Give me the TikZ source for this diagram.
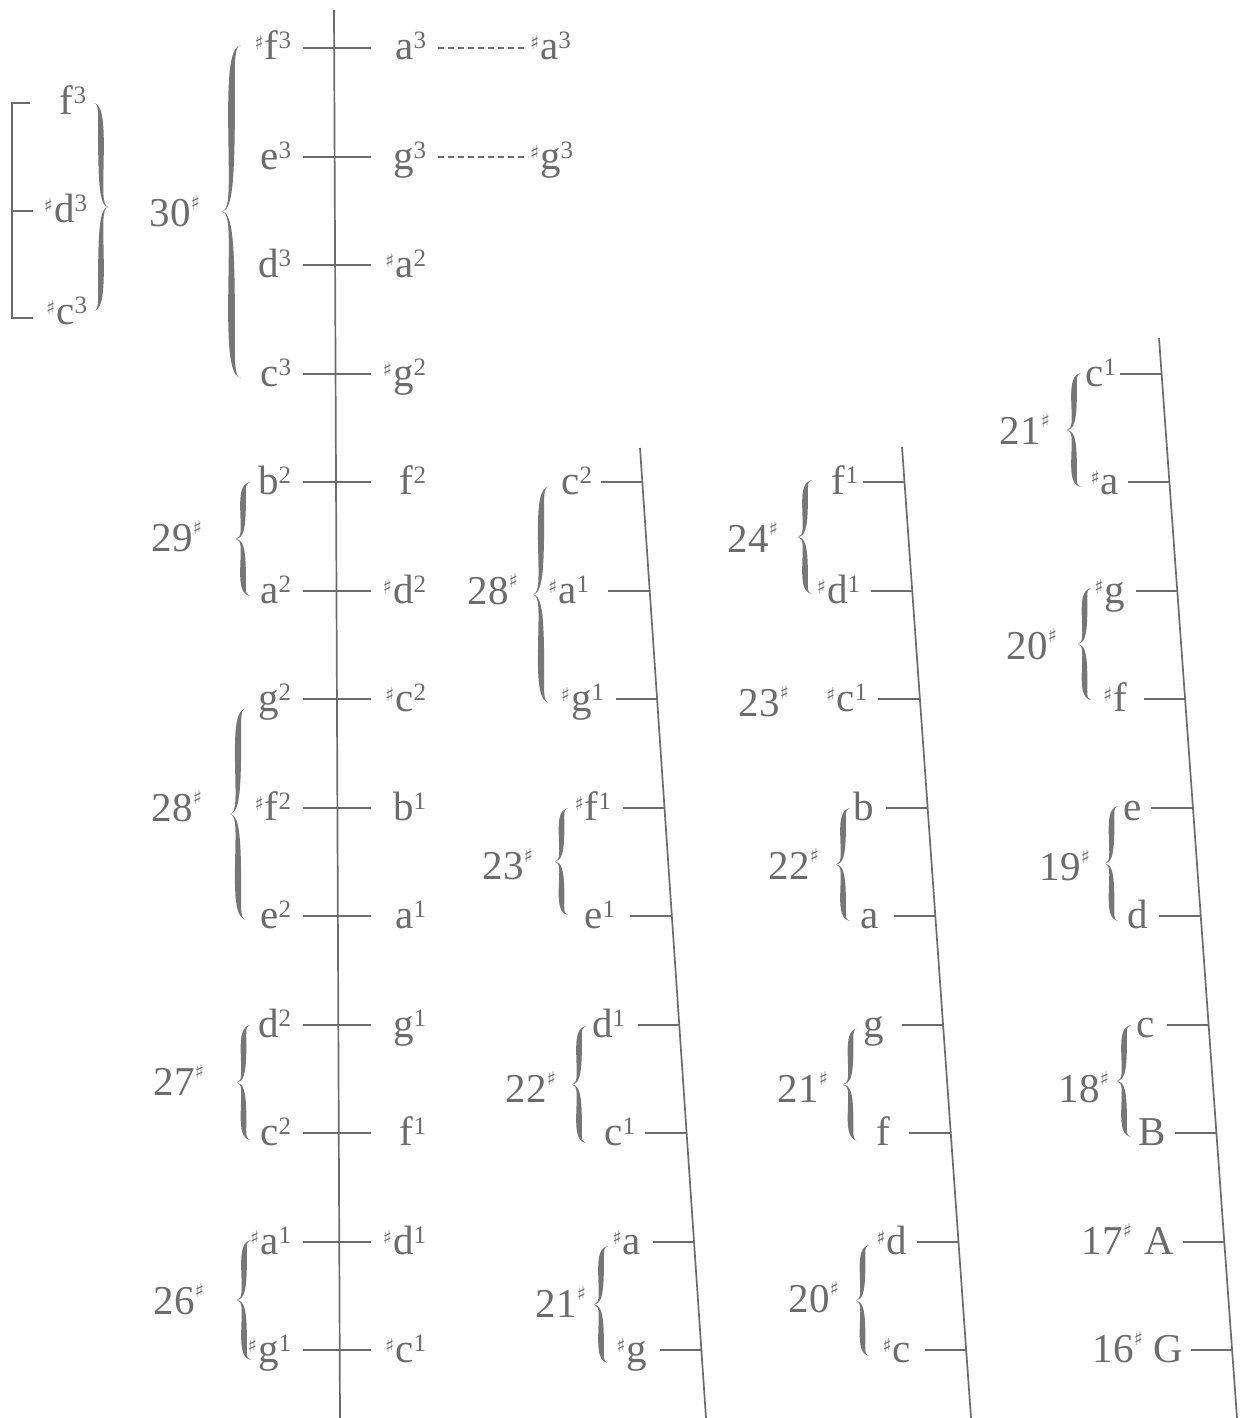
\documentclass[tikz,border=0pt]{standalone}
\usepackage{fontspec}
\setmainfont{Liberation Serif}
\newfontfamily\symf{DejaVu Sans}
\definecolor{ink}{RGB}{108,108,108}
\definecolor{brcol}{RGB}{118,118,118}
\newcommand\shp{\raisebox{10pt}{\fontsize{19}{19}\symf ♯}\hspace{1pt}}
\newcommand\ssh{\raisebox{17pt}{\fontsize{19}{19}\symf ♯}}
\newcommand\su[1]{\raisebox{11pt}{\fontsize{25}{25}\selectfont #1}}
\tikzset{
  lbl/.style={inner sep=0pt,outer sep=0pt,text=ink,font=\fontsize{41}{44}\selectfont},
  tk/.style={draw=ink,line width=1.9pt},
  vline/.style={draw=ink,line width=1.7pt},
  dsh/.style={draw=ink,line width=1.2pt,dash pattern=on 6pt off 4pt},
  brc/.style={fill=brcol}
}
% brace: #1 hook x, #2 tip x, #3 top y, #4 bottom y, #5 thickness
\newcommand\brc[5]{%
  \pgfmathsetmacro\bd{sign(#1-#2)}%
  \pgfmathsetmacro\bm{(#3+#4)/2}%
  \pgfmathsetmacro\bh{(#4-#3)/2}%
  \pgfmathsetmacro\bxc{(#1+#2)/2}%
  \foreach \s/\ye in {1/#3,-1/#4}{%
    \fill[brc] (#1,\ye)
      .. controls ({\bxc-(\bd)*1},{\ye+(\s)*2}) and ({\bxc-(\bd)*0.6*#5},{\ye+(\s)*0.15*\bh}) .. ({\bxc-(\bd)*0.5*#5},{\ye+(\s)*0.5*\bh})
      .. controls ({\bxc-(\bd)*0.4*#5},{\ye+(\s)*0.85*\bh}) and ({\bxc-(\bd)*1},{\ye+(\s)*(\bh-2)}) .. (#2,\bm)
      .. controls ({\bxc},{\ye+(\s)*(\bh-1)}) and ({\bxc+(\bd)*0.4*#5},{\ye+(\s)*0.85*\bh}) .. ({\bxc+(\bd)*0.5*#5},{\ye+(\s)*0.5*\bh})
      .. controls ({\bxc+(\bd)*0.6*#5},{\ye+(\s)*0.15*\bh}) and ({\bxc+(\bd)*1},{\ye+(\s)*1}) .. (#1,\ye) -- cycle;
  }%
}
% slanted-column row: #1 name, #2 line top x, #3 line top y, #4 slope, #5 row y, #6 label right x, #7 text
\newcommand\slrow[7]{%
  \pgfmathsetmacro\slx{#2+(#5-#3)*#4}%
  \coordinate (#1e) at (\slx,#5);
  \coordinate (#1s) at ({\slx-41.5},#5);
  \node[lbl,anchor=base east] (#1) at (#6,{#5+12}) {#7};
  \draw[tk] (#1s) -- (#1e);
}
\newcommand\numlab[4]{% #1 name, #2 right x, #3 centre y, #4 text
  \node[lbl,anchor=base east] (#1) at (#2,{#3+14}) {#4};
}
\begin{document}
\begin{tikzpicture}[x=1pt,y=-1pt]
\useasboundingbox (0,0) rectangle (1240,1418);

% vertical lines
\coordinate (L1t) at (334,10);   \coordinate (L1b) at (340,1418);
\coordinate (L2t) at (640,448);  \coordinate (L2b) at (706,1418);
\coordinate (L3t) at (902,447);  \coordinate (L3b) at (971,1418);
\coordinate (L4t) at (1159,338); \coordinate (L4b) at (1237,1418);
\draw[vline] (L1t) -- (L1b);
\draw[vline] (L2t) -- (L2b);
\draw[vline] (L3t) -- (L3b);
\draw[vline] (L4t) -- (L4b);

% main column
\foreach \k/\ry/\lt/\rt in {
  0/48/{\shp f\su{3}}/{a\su{3}},
  1/157/{e\su{3}}/{g\su{3}},
  2/265/{d\su{3}}/{\shp a\su{2}},
  3/374/{c\su{3}}/{\shp g\su{2}},
  4/482/{b\su{2}}/{f\su{2}},
  5/591/{a\su{2}}/{\shp d\su{2}},
  6/699/{g\su{2}}/{\shp c\su{2}},
  7/808/{\shp f\su{2}}/{b\su{1}},
  8/916/{e\su{2}}/{a\su{1}},
  9/1025/{d\su{2}}/{g\su{1}},
  10/1133/{c\su{2}}/{f\su{1}},
  11/1242/{\shp a\su{1}}/{\shp d\su{1}},
  12/1350/{\shp g\su{1}}/{\shp c\su{1}}}{
  \coordinate (ms\k) at (303,\ry);
  \coordinate (me\k) at (371,\ry);
  \node[lbl,anchor=base east] (ml\k) at (291,{\ry+12}) {\lt};
  \node[lbl,anchor=base east] (mr\k) at (426,{\ry+12}) {\rt};
  \draw[tk] (ms\k) -- (me\k);
}

% dashed extensions
\coordinate (da0) at (438,48);  \coordinate (db0) at (528,48);
\coordinate (da1) at (438,157); \coordinate (db1) at (528,157);
\node[lbl,anchor=base west] (xa3) at (530,60) {\shp a\su{3}};
\node[lbl,anchor=base west] (xg3) at (530,169) {\shp g\su{3}};
\draw[dsh] (da0) -- (db0);
\draw[dsh] (da1) -- (db1);

% far-left group
\node[lbl,anchor=base east] (lf3) at (86,115) {f\su{3}};
\node[lbl,anchor=base east] (ld3) at (87,222) {\shp d\su{3}};
\node[lbl,anchor=base east] (lc3) at (87,324) {\shp c\su{3}};
\coordinate (bk1) at (30,103); \coordinate (bk2) at (12,103);
\coordinate (bk3) at (12,318); \coordinate (bk4) at (33,318);
\coordinate (bk5) at (12,211); \coordinate (bk6) at (33,211);
\draw[vline] (bk1) -- (bk2) -- (bk3) -- (bk4);
\draw[vline] (bk5) -- (bk6);
\brc{94}{108}{103}{311}{5.5}

% column 1 numbers and braces
\numlab{n30}{200}{212}{30\ssh}
\numlab{n29}{202}{537}{29\ssh}
\numlab{n28a}{202}{807}{28\ssh}
\numlab{n27}{204}{1081}{27\ssh}
\numlab{n26}{204}{1300}{26\ssh}
\brc{241}{222}{45}{378}{6.5}
\brc{250}{236}{482}{596}{5.5}
\brc{246}{230}{708}{920}{6}
\brc{250}{237}{1025}{1140}{5.5}
\brc{251}{237}{1240}{1360}{5.5}

% column 2
\slrow{bc2}{640}{448}{0.06804}{482}{592}{c\su{2}}
\slrow{ba1}{640}{448}{0.06804}{591}{589}{\shp a\su{1}}
\slrow{bg1}{640}{448}{0.06804}{699}{604}{\shp g\su{1}}
\slrow{bf1}{640}{448}{0.06804}{808}{611}{\shp f\su{1}}
\slrow{be1}{640}{448}{0.06804}{916}{615}{e\su{1}}
\slrow{bd1}{640}{448}{0.06804}{1025}{625}{d\su{1}}
\slrow{bc1}{640}{448}{0.06804}{1133}{635}{c\su{1}}
\slrow{bsa}{640}{448}{0.06804}{1242}{641}{\shp a}
\slrow{bsg}{640}{448}{0.06804}{1350}{647}{\shp g}
\numlab{n28b}{518}{590}{28\ssh}
\numlab{n23b}{533}{865}{23\ssh}
\numlab{n22b}{556}{1088}{22\ssh}
\numlab{n21b}{586}{1303}{21\ssh}
\brc{549}{533}{486}{703}{6}
\brc{568}{555}{808}{915}{5.5}
\brc{586}{572}{1026}{1143}{5.5}
\brc{608}{594}{1246}{1363}{5.5}

% column 3
\slrow{cf1}{902}{447}{0.07106}{482}{858}{f\su{1}}
\slrow{cd1}{902}{447}{0.07106}{591}{860}{\shp d\su{1}}
\slrow{cc1}{902}{447}{0.07106}{699}{867}{\shp c\su{1}}
\slrow{cb}{902}{447}{0.07106}{808}{874}{b}
\slrow{ca}{902}{447}{0.07106}{916}{879}{a}
\slrow{cg}{902}{447}{0.07106}{1025}{884}{g}
\slrow{cf}{902}{447}{0.07106}{1133}{890}{f}
\slrow{csd}{902}{447}{0.07106}{1242}{907}{\shp d}
\slrow{csc}{902}{447}{0.07106}{1350}{911}{\shp c}
\numlab{n24c}{778}{538}{24\ssh}
\numlab{n23c}{789}{702}{23\ssh}
\numlab{n22c}{819}{865}{22\ssh}
\numlab{n21c}{828}{1088}{21\ssh}
\numlab{n20c}{839}{1298}{20\ssh}
\brc{812}{798}{480}{594}{5.5}
\brc{850}{836}{808}{921}{5.5}
\brc{858}{843}{1028}{1141}{5.5}
\brc{869}{856}{1245}{1356}{5.5}

% column 4
\slrow{dc1}{1159}{338}{0.07222}{374}{1116}{c\su{1}}
\slrow{dsa}{1159}{338}{0.07222}{482}{1119}{\shp a}
\slrow{dsg}{1159}{338}{0.07222}{591}{1125}{\shp g}
\slrow{dsf}{1159}{338}{0.07222}{699}{1127}{\shp f}
\slrow{de}{1159}{338}{0.07222}{808}{1142}{e}
\slrow{dd}{1159}{338}{0.07222}{916}{1148}{d}
\slrow{dc}{1159}{338}{0.07222}{1025}{1155}{c}
\slrow{dB}{1159}{338}{0.07222}{1133}{1166}{B}
\slrow{dA}{1159}{338}{0.07222}{1242}{1174}{A}
\slrow{dG}{1159}{338}{0.07222}{1350}{1183}{G}
\numlab{n21d}{1050}{430}{21\ssh}
\numlab{n20d}{1057}{645}{20\ssh}
\numlab{n19d}{1090}{866}{19\ssh}
\numlab{n18d}{1109}{1088}{18\ssh}
\node[lbl,anchor=base east] (n17d) at (1132,1254) {17\ssh};
\node[lbl,anchor=base east] (n16d) at (1143,1362) {16\ssh};
\brc{1081}{1067}{373}{487}{5.5}
\brc{1091}{1078}{588}{700}{5.5}
\brc{1118}{1105}{806}{921}{5.5}
\brc{1131}{1117}{1025}{1137}{5.5}
\end{tikzpicture}
\end{document}
